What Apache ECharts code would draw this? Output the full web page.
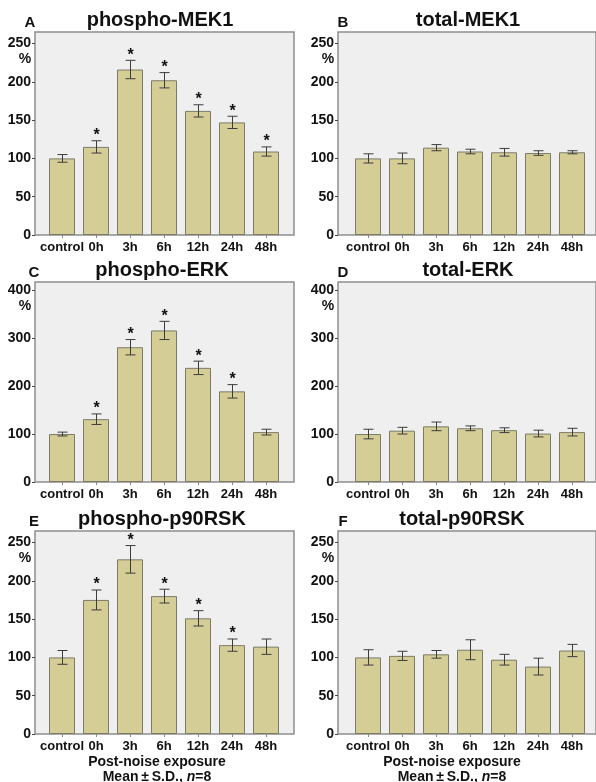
<!DOCTYPE html>
<html>
<head>
<meta charset="utf-8">
<script src="https://cdn.jsdelivr.net/npm/echarts@6/dist/echarts.min.js"></script>
<style>
  html, body { margin: 0; background: #fff; }
  #chart { width: 596px; height: 782px; }
</style>
</head>
<body>
<div id="chart"></div>
<script>
const categories = ["control", "0h", "3h", "6h", "12h", "24h", "48h"];

// A
const phosphoMek1 = [100, 115, 216, 202, 162, 147, 109];
const phosphoMek1SD = [5, 8, 12, 10, 8, 8, 6];
const phosphoMek1Sig = [0, 1, 1, 1, 1, 1, 1];
// B
const totalMek1 = [100, 100, 114, 109, 108, 107, 108];
const totalMek1SD = [6, 7, 4, 3, 5, 3, 2];
// C
const phosphoErk = [100, 131, 281, 316, 238, 189, 104];
const phosphoErkSD = [4, 11, 16, 19, 14, 14, 6];
const phosphoErkSig = [0, 1, 1, 1, 1, 1, 0];
// D
const totalErk = [100, 107, 116, 112, 108, 101, 104];
const totalErkSD = [10, 7, 9, 5, 5, 7, 8];
// E
const phosphoRsk = [100, 175, 228, 180, 151, 116, 114];
const phosphoRskSD = [9, 13, 18, 9, 10, 8, 10];
const phosphoRskSig = [0, 1, 1, 1, 1, 1, 0];
// F
const totalRsk = [100, 102, 104, 110, 97, 88, 109];
const totalRskSD = [10, 6, 5, 13, 7, 11, 8];

const ticks250 = [0, 50, 100, 150, 200, 250];
const ticks400 = [0, 100, 200, 300, 400];

const FONT = "'Liberation Sans', Arial, sans-serif";
const BAR = "#d5cd96";
const BG = "#efefef";

const noSig = [0, 0, 0, 0, 0, 0, 0];

const panels = [
  { letter: "A", title: "phospho-MEK1", vals: phosphoMek1, sd: phosphoMek1SD, sig: phosphoMek1Sig, max: 265, ticks: ticks250, col: 0, top: 32, h: 203, titleX: 160 },
  { letter: "B", title: "total-MEK1", vals: totalMek1, sd: totalMek1SD, sig: noSig, max: 265, ticks: ticks250, col: 1, top: 32, h: 203, titleX: 468 },
  { letter: "C", title: "phospho-ERK", vals: phosphoErk, sd: phosphoErkSD, sig: phosphoErkSig, max: 417, ticks: ticks400, col: 0, top: 282, h: 200, titleX: 162 },
  { letter: "D", title: "total-ERK", vals: totalErk, sd: totalErkSD, sig: noSig, max: 417, ticks: ticks400, col: 1, top: 282, h: 200, titleX: 468 },
  { letter: "E", title: "phospho-p90RSK", vals: phosphoRsk, sd: phosphoRskSD, sig: phosphoRskSig, max: 265, ticks: ticks250, col: 0, top: 531, h: 203, titleX: 162 },
  { letter: "F", title: "total-p90RSK", vals: totalRsk, sd: totalRskSD, sig: noSig, max: 265, ticks: ticks250, col: 1, top: 531, h: 203, titleX: 462 }
];

const boxLeft = [35, 338];
const dataLeft = [45, 351];
const letterX = [30, 343];

const grid = [], xAxis = [], yAxis = [], series = [], graphic = [];
const n = panels.length;

panels.forEach((p, i) => {
  // data grid
  grid[i] = { left: dataLeft[p.col], top: p.top, width: 238, height: p.h, z: 2 };
  // frame grid
  grid[n + i] = {
    left: boxLeft[p.col], top: p.top, width: 259, height: p.h, show: true,
    backgroundColor: BG, borderColor: "#8e8e8e", borderWidth: 1.5, z: 0
  };

  xAxis[i] = {
    type: "category", gridIndex: i, data: categories,
    axisLine: { show: false },
    axisTick: { show: true, alignWithLabel: true, length: 3, lineStyle: { color: "#888" } },
    axisLabel: { color: "#111", fontSize: 13, fontWeight: "bold", fontFamily: FONT, margin: 6, interval: 0 },
    splitLine: { show: false }
  };
  yAxis[i] = {
    type: "value", gridIndex: i, min: 0, max: p.max, interval: p.ticks[1],
    offset: dataLeft[p.col] - boxLeft[p.col],
    axisLine: { show: false },
    axisTick: { show: true, length: 3, customValues: p.ticks, lineStyle: { color: "#444" } },
    axisLabel: { color: "#111", fontSize: 14, fontWeight: "bold", fontFamily: FONT, margin: 4, customValues: p.ticks },
    splitLine: { show: false }
  };
  xAxis[n + i] = { type: "value", gridIndex: n + i, show: false };
  yAxis[n + i] = { type: "value", gridIndex: n + i, show: false };

  series.push({
    type: "bar", xAxisIndex: i, yAxisIndex: i, data: p.vals, barWidth: 26,
    itemStyle: { color: BAR, borderColor: "#7c7b68", borderWidth: 1 },
    silent: true, z: 3
  });
  series.push({
    type: "custom", xAxisIndex: i, yAxisIndex: i, z: 4, silent: true,
    encode: { x: 0, y: 1 },
    data: p.vals.map((v, k) => [k, v, p.sd[k], p.sig[k]]),
    renderItem: (params, api) => {
      const k = api.value(0), v = api.value(1), e = api.value(2), s = api.value(3);
      const t = api.coord([k, v + e]);
      const b = api.coord([k, v - e]);
      const x = Math.round(t[0]) + 0.5, hw = 5;
      const st = { stroke: "#3c3c3c", lineWidth: 1 };
      const kids = [
        { type: "line", shape: { x1: x, y1: t[1], x2: x, y2: b[1] }, style: st },
        { type: "line", shape: { x1: x - hw, y1: t[1], x2: x + hw, y2: t[1] }, style: st },
        { type: "line", shape: { x1: x - hw, y1: b[1], x2: x + hw, y2: b[1] }, style: st }
      ];
      if (s) {
        kids.push({
          type: "text", x: x, y: t[1] - 5,
          style: { text: "*", fill: "#111", font: "bold 16px " + FONT, align: "center", verticalAlign: "middle" }
        });
      }
      return { type: "group", children: kids };
    }
  });

  // panel title and letter
  graphic.push({
    type: "text", x: p.titleX, y: p.top - 12,
    style: { text: p.title, fill: "#111", font: "bold 20px " + FONT, align: "center", verticalAlign: "middle" }
  });
  graphic.push({
    type: "text", x: letterX[p.col] + (p.col === 0 && i > 0 ? 4 : 0), y: p.top - 9,
    style: { text: p.letter, fill: "#111", font: "bold 15px " + FONT, align: "center", verticalAlign: "middle" }
  });
  // "%" under the top tick label
  const topTick = p.ticks[p.ticks.length - 1];
  const yTop = p.top + p.h * (1 - topTick / p.max);
  graphic.push({
    type: "text", x: boxLeft[p.col] - 10, y: yTop + 16,
    style: { text: "%", fill: "#111", font: "bold 14px " + FONT, align: "center", verticalAlign: "middle" }
  });
});

// bottom captions
[157, 452].forEach((cx) => {
  graphic.push({
    type: "text", x: cx, y: 762,
    style: { text: "Post-noise exposure", fill: "#111", font: "bold 14px " + FONT, align: "center", verticalAlign: "middle" }
  });
  graphic.push({
    type: "text", x: cx, y: 777,
    style: {
      text: "{a|Mean\u2009\u00b1\u2009S.D., }{b|n}{a|=8}", align: "center", verticalAlign: "middle",
      rich: {
        a: { fill: "#111", font: "bold 14px " + FONT },
        b: { fill: "#111", font: "italic bold 14px " + FONT }
      }
    }
  });
});

const chart = echarts.init(document.getElementById("chart"), null, { renderer: "canvas" });
chart.setOption({
  animation: false,
  backgroundColor: "#fff",
  grid, xAxis, yAxis, series, graphic
});
</script>
</body>
</html>
